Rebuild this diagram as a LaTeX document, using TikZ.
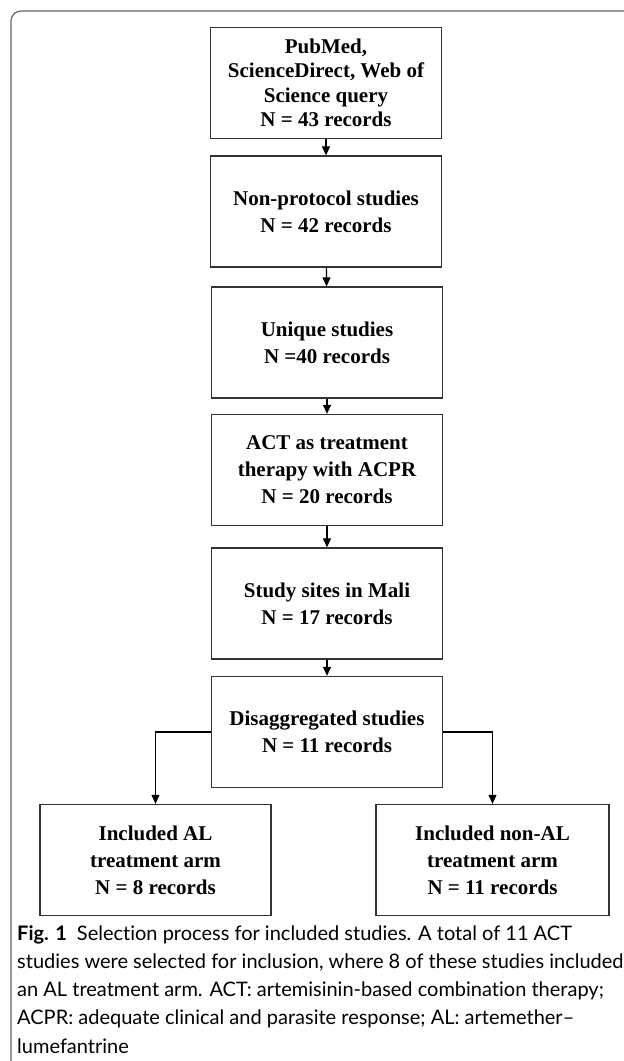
\documentclass[tikz,border=0pt]{standalone}
\usepackage{fontspec}
\usepackage{tikz}
\usepackage{xcolor}
\setmainfont{Liberation Serif}
\newfontfamily\capfont[Ligatures={TeX,NoCommon}]{Lato}
\usetikzlibrary{arrows.meta}
\definecolor{boxline}{HTML}{333333}
\definecolor{frameline}{HTML}{666666}
\tikzstyle{stage} = [draw=boxline, line width=1.3pt, minimum width=231pt, minimum height=111pt, inner sep=0pt, align=center, font=\bfseries\fontsize{21}{27}\selectfont]
\tikzstyle{link} = [draw=black, line width=1.1pt, -{Triangle[width=8pt,length=9pt]}]

\begin{document}
\begin{tikzpicture}[x=1pt,y=-1pt]
\useasboundingbox (0,0) rectangle (624,1061);
\draw[frameline, line width=1.2pt, rounded corners=10pt] (11,1061) -- (11,11) -- (624,11);

\node[stage, font=\bfseries\fontsize{21}{24.5}\selectfont] (query) at (326,83) {PubMed,\\ScienceDirect, Web of\\Science query\\N = 43 records};
\node[stage] (protocol) at (326,211.5) {Non-protocol studies\\N = 42 records};
\node[stage] (unique) at (327,342.5) {Unique studies\\N =40 records};
\node[stage] (acpr) at (327,470) {ACT as treatment\\therapy with ACPR\\N = 20 records};
\node[stage] (mali) at (327,603.5) {Study sites in Mali\\N = 17 records};
\node[stage] (disagg) at (327,732) {Disaggregated studies\\N = 11 records};
\node[stage] (alarm) at (155.5,860) {Included AL\\treatment arm\\N = 8 records};
\node[stage, minimum width=233pt] (nonal) at (492.5,860) {Included non-AL\\treatment arm\\N = 11 records};

\foreach \from/\to in {query/protocol,protocol/unique,unique/acpr,acpr/mali,mali/disagg}
{
	\draw[link] (\from) -- (\to);
}
\draw[link] (disagg.west) -| (alarm);
\draw[link] (disagg.east) -| (nonal);

\node[anchor=north west, inner sep=0pt, align=left, font=\capfont\fontsize{20}{28.3}\selectfont] (caption) at (17,925)
{\textbf{Fig. 1}\enspace Selection process for included studies. A total of 11 ACT\\
studies were selected for inclusion, where 8 of these studies included\\
an AL treatment arm. ACT: artemisinin-based combination therapy;\\
ACPR: adequate clinical and parasite response; AL: artemether–\\
lumefantrine};
\end{tikzpicture}
\end{document}
